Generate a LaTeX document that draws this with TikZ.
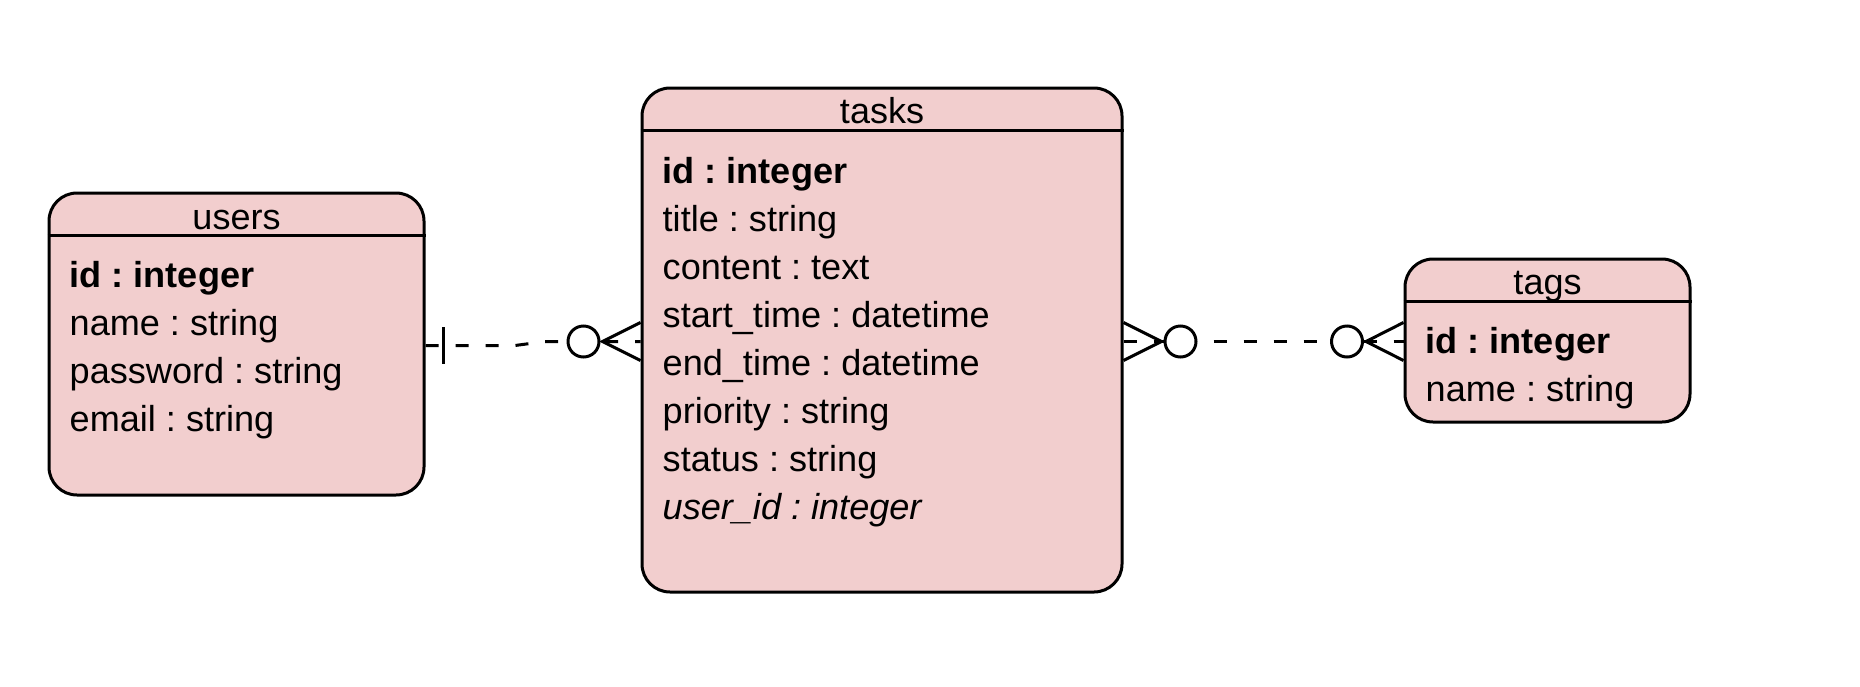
\documentclass[tikz,border=0pt]{standalone}
\usepackage{fontspec}
\setmainfont{Liberation Sans}
\definecolor{erfill}{HTML}{F2CECE}
\frenchspacing
\begin{document}
\begin{tikzpicture}[x=1pt,y=-1pt,
  tbl/.style={draw=black, line width=3pt, fill=erfill, rounded corners=28pt, inner sep=0pt},
  hdr/.style={anchor=base, inner sep=0pt, font=\fontsize{36}{43}\selectfont\frenchspacing},
  attr/.style={anchor=base west, inner sep=0pt, font=\fontsize{36.1}{43}\selectfont\frenchspacing},
  rel/.style={line width=3pt, dash pattern=on 13pt off 17pt},
  mk/.style={line width=3pt},
  circ/.style={circle, draw=black, fill=white, line width=3pt, minimum size=31pt, inner sep=0pt}]
\useasboundingbox (0,0) rectangle (1860,686);

% tables
\node[tbl, minimum width=375pt, minimum height=302pt] (users) at (236.5,344) {};
\node[tbl, minimum width=480pt, minimum height=504pt] (tasks) at (882,340) {};
\node[tbl, minimum width=285pt, minimum height=163pt] (tags) at (1547.5,340.5) {};

% header separators
\draw[mk] ([yshift=-44pt]users.north west) -- ([yshift=-44pt]users.north east);
\draw[mk] ([yshift=-44pt]tasks.north west) -- ([yshift=-44pt]tasks.north east);
\draw[mk] ([yshift=-44pt]tags.north west) -- ([yshift=-44pt]tags.north east);

% headers
\node[hdr] (usersh) at ([yshift=-38pt]users.north) {users};
\node[hdr] (tasksh) at ([yshift=-37pt]tasks.north) {tasks};
\node[hdr] (tagsh) at ([yshift=-37pt]tags.north) {tags};

% users attributes
\node[attr] (u1) at ([xshift=22pt,yshift=-96pt]users.north west) {\bfseries id : integer};
\node[attr] (u2) at ([xshift=22pt,yshift=-144pt]users.north west) {name : string};
\node[attr] (u3) at ([xshift=22pt,yshift=-192pt]users.north west) {password : string};
\node[attr] (u4) at ([xshift=22pt,yshift=-240pt]users.north west) {email : string};

% tasks attributes
\node[attr] (t1) at ([xshift=22pt,yshift=-97pt]tasks.north west) {\bfseries id : integer};
\node[attr] (t2) at ([xshift=22pt,yshift=-145pt]tasks.north west) {title : string};
\node[attr] (t3) at ([xshift=22pt,yshift=-193pt]tasks.north west) {content : text};
\node[attr] (t4) at ([xshift=22pt,yshift=-241pt]tasks.north west) {start\_time : datetime};
\node[attr] (t5) at ([xshift=22pt,yshift=-289pt]tasks.north west) {end\_time : datetime};
\node[attr] (t6) at ([xshift=22pt,yshift=-337pt]tasks.north west) {priority : string};
\node[attr] (t7) at ([xshift=22pt,yshift=-385pt]tasks.north west) {status : string};
\node[attr] (t8) at ([xshift=22pt,yshift=-433pt]tasks.north west) {\itshape user\_id : integer};

% tags attributes
\node[attr] (g1) at ([xshift=22pt,yshift=-96pt]tags.north west) {\bfseries id : integer};
\node[attr] (g2) at ([xshift=22pt,yshift=-144pt]tags.north west) {name : string};

% users -> tasks
\coordinate (lb1) at (515,345.5);
\coordinate (lb2) at (545,341.5);
\draw[rel] ([yshift=-1.5pt]users.east) -- (lb1) -- (lb2) -- ([yshift=-1.5pt]tasks.west);
\coordinate (bart) at (443,327);
\coordinate (barb) at (443,364);
\draw[mk] (bart) -- (barb);
\node[circ] (lc) at (583.5,341.5) {};
\draw[mk] ([yshift=17.5pt]tasks.west) -- ([xshift=2pt]lc.east) -- ([yshift=-20.5pt]tasks.west);

% tasks -> tags
\draw[rel] ([yshift=-1.5pt]tasks.east) -- ([yshift=-1pt]tags.west);
\node[circ] (rc1) at (1180.5,341.5) {};
\node[circ] (rc2) at (1347,341.5) {};
\draw[mk] ([yshift=17.5pt]tasks.east) -- ([xshift=-2pt]rc1.west) -- ([yshift=-20.5pt]tasks.east);
\draw[mk] ([yshift=18pt]tags.west) -- ([xshift=2pt]rc2.east) -- ([yshift=-20pt]tags.west);
\end{tikzpicture}
\end{document}
